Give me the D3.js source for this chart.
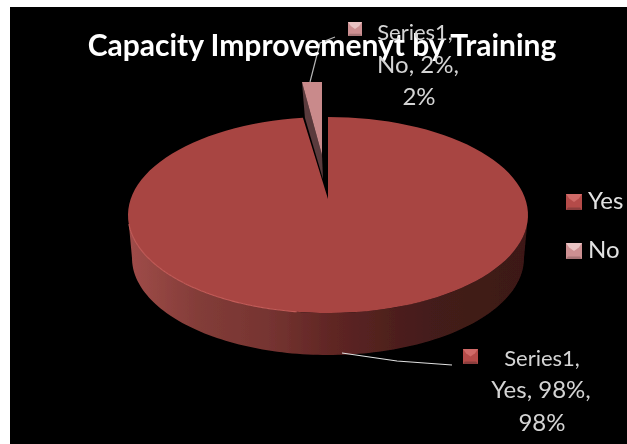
<!DOCTYPE html>
<html><head><meta charset="utf-8">
<script src="https://cdn.jsdelivr.net/npm/d3@7"></script>
<style>html,body{margin:0;padding:0;background:#fff;overflow:hidden}svg{display:block}text{font-family:Lato,"Open Sans",sans-serif}</style>
</head><body><svg id="c" width="627" height="444"></svg>
<script>
const titleText = "Capacity Improvemenyt by Training";
const seriesName = "Series1";
const categories = ["Yes", "No"];
const values = [98, 2];
const percentLabels = ["98%", "2%"];
const colors = ["#a84543", "#c98a8b"];
const markerLight = ["#d06a67", "#e9c3c3"];
const markerBase = ["#b54c4a", "#cd9092"];
const markerDark = ["#8c3d3c", "#a87577"];

const svg = d3.select("#c");
svg.append("rect").attr("x",10).attr("y",7).attr("width",617).attr("height",437).attr("fill","#000");
const defs = svg.append("defs");
const soft = defs.append("filter").attr("id","soft");
soft.append("feGaussianBlur").attr("stdDeviation",0.55);
const softT = defs.append("filter").attr("id","softT");
softT.append("feGaussianBlur").attr("stdDeviation",0.4);
const sg = defs.append("linearGradient").attr("id","side").attr("gradientUnits","userSpaceOnUse")
  .attr("x1",128).attr("x2",528).attr("y1",0).attr("y2",0);
[[0,"#a04c49"],[0.18,"#823c38"],[0.35,"#763431"],[0.52,"#5e2523"],[0.75,"#441c1a"],[1,"#3c1917"]]
  .forEach(([o,c])=>sg.append("stop").attr("offset",o).attr("stop-color",c));

const xTop = d3.scaleLinear().domain([-1,1]).range([128,528]);
const yTop = d3.scaleLinear().domain([-1,1]).range([313,117]);
const xLow = d3.scaleLinear().domain([-1,1]).range([132,524]);
const yLow = d3.scaleLinear().domain([-1,1]).range([355,161]);
const apexV = 0.163;
const rim = (a,sx,sy)=>[sx(Math.sin(a)),sy(Math.cos(a))];
const pathLine = d3.line();

const arcs = d3.pie().sort(null).value(d=>d)(values);
const steps = (a0,a1)=>d3.range(0,121).map(i=>a0+(a1-a0)*i/120);
const mainArc = arcs[0], smallArc = arcs[1];

// side wall (front half of the disc)
const front = steps(Math.PI/2,3*Math.PI/2);
const wall = front.map(a=>rim(a,xTop,yTop)).concat(front.slice().reverse().map(a=>rim(a,xLow,yLow)));
svg.append("path").attr("d",pathLine(wall)+"Z").attr("fill","url(#side)").attr("filter","url(#softT)");

// top face of the large slice
const apex = [xTop(0),yTop(apexV)];
const topFace = [apex].concat(steps(mainArc.startAngle,mainArc.endAngle).map(a=>rim(a,xTop,yTop)));
svg.append("path").attr("d",pathLine(topFace)+"Z").attr("fill",colors[0]).attr("filter","url(#soft)");

// rim highlight
svg.append("path").attr("d",pathLine(steps(Math.PI*1.05,Math.PI*1.47).map(a=>rim(a,xTop,yTop))))
  .attr("fill","none").attr("stroke","#c25b58").attr("stroke-width",1.1).attr("filter","url(#softT)");

// exploded small slice
const sx2 = d3.scaleLinear().domain([xTop(0)-25,xTop(0)]).range([302,322]);
const sy2 = d3.scaleLinear().domain([yTop(apexV),yTop(1)]).range([155,82]);
const wedgeRim = steps(smallArc.startAngle,smallArc.endAngle).map(a=>{
  const p=rim(a,xTop,yTop); return [sx2(p[0]),sy2(yTop(1))];});
const tip=[sx2(apex[0]),sy2(apex[1])];
const first=wedgeRim[0];
const dark=[first,[first[0]+3,first[1]+36],[tip[0]+1,tip[1]+24],tip];
svg.append("path").attr("d",pathLine(dark)+"Z").attr("fill","#5a3a3c").attr("filter","url(#softT)");
svg.append("path").attr("d",pathLine([tip].concat(wedgeRim))+"Z").attr("fill",colors[1]).attr("filter","url(#softT)");

// leader lines
const leaders=[[[342,353],[397,361],[452,365]],[[310,82],[320,43],[335,37]]];
leaders.forEach((l,i)=>svg.append("path").attr("d",pathLine(l)).attr("fill","none")
  .attr("stroke",i?"#b5b5b5":"#e0e0e0").attr("stroke-width",1.2));

function marker(i,mx,my,s){
  const g=svg.append("g").attr("filter","url(#softT)");
  g.append("rect").attr("x",mx).attr("y",my).attr("width",s).attr("height",s).attr("fill",markerBase[i]);
  const b=s*0.2;
  g.append("path").attr("d",pathLine([[mx,my],[mx+s,my],[mx+s-b,my+b*1.4],[mx+s/2,my+s*0.5],[mx+b,my+b*1.4]])+"Z").attr("fill",markerLight[i]);
  g.append("path").attr("d",pathLine([[mx,my+s],[mx+s,my+s],[mx+s-b*.6,my+s-b*.8],[mx+b*.6,my+s-b*.8]])+"Z").attr("fill",markerDark[i]);
}
function label(str,cx,cy,size,fill,anchor,weight){
  svg.append("text").attr("x",cx).attr("y",cy).attr("dy","0.35em").attr("font-size",size)
    .attr("text-anchor",anchor||"middle").attr("font-weight",weight||400).attr("fill",fill).attr("filter","url(#softT)").text(str);
}

// title
label(titleText,322,45,30,"#ffffff","middle",700);

// data labels
marker(1,348,22,14);
label(seriesName+",",415,32,22,"#d4d4d4");
label(categories[1]+", "+percentLabels[1]+",",418,65,24,"#d4d4d4");
label(percentLabels[1],419,97,24,"#d4d4d4");
marker(0,463,349,15);
label(seriesName+",",542,358,22,"#d4d4d4");
label(categories[0]+", "+percentLabels[0]+",",541,390,24,"#d4d4d4");
label(percentLabels[0],542,423,24,"#d4d4d4");

// legend
categories.forEach((c,i)=>{
  const my=[194,243][i];
  marker(i,566,my,16);
  label(c,588,my+7,24,"#e2e2e2","start");
});
</script></body></html>
